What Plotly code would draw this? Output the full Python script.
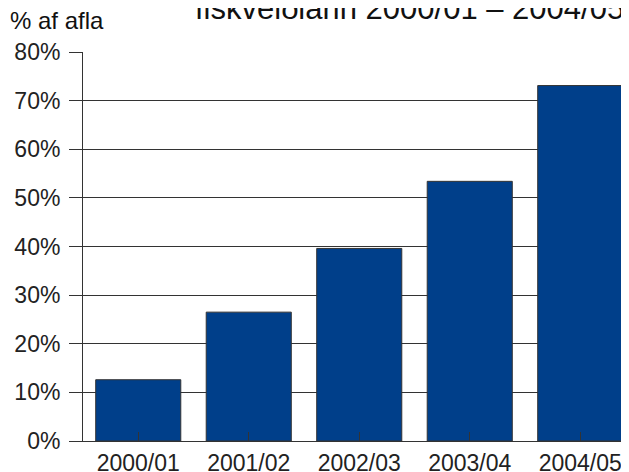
import plotly.graph_objects as go

categories = ["2000/01", "2001/02", "2002/03", "2003/04", "2004/05"]
values = [12.6, 26.5, 39.6, 53.4, 73.1]
y_ticks = [0, 10, 20, 30, 40, 50, 60, 70, 80]
y_tick_labels = [f"{v}%" for v in y_ticks]
title_text = "fiskveiðiárin 2000/01 – 2004/05"
unit_text = "% af afla"

FONT = "Liberation Sans, Arial, Helvetica, sans-serif"
OFF = 8  # page body margin offset
W, H = 629, 472
L, R, T, B = 83 - OFF, OFF, 52 - OFF, 472 - (441 - OFF)

fig = go.Figure(go.Bar(
    x=list(range(len(categories))),
    y=values,
    width=0.77,
    marker=dict(color="#003F8A", line=dict(color="#333333", width=1)),
))

plot_h = H - T - B
plot_w = W - L - R


def px_x(wx):
    return (wx - OFF - L) / plot_w


def px_y(wy):
    return (H - B - (wy - OFF)) / plot_h


fig.update_layout(
    width=W, height=H,
    margin=dict(l=L, r=R, t=T, b=B, pad=0, autoexpand=False),
    paper_bgcolor="white", plot_bgcolor="white",
    showlegend=False,
    font=dict(family=FONT, size=23, color="#222222"),
    bargap=0.23,
    annotations=[
        dict(text=title_text, xref="paper", yref="paper",
             x=px_x(193), y=px_y(8),
             xanchor="left", yanchor="middle", showarrow=False,
             font=dict(family=FONT, size=31, color="#111111")),
        dict(text=unit_text, xref="paper", yref="paper",
             x=px_x(8), y=px_y(21),
             xanchor="left", yanchor="middle", showarrow=False,
             font=dict(family=FONT, size=24, color="#111111")),
    ],
)

fig.update_xaxes(
    automargin=False,
    range=[-0.5, -0.5 + plot_w / 110.5],
    tickmode="array",
    tickvals=list(range(len(categories))),
    ticktext=categories,
    tickson="boundaries",
    ticks="inside", ticklen=9, tickcolor="#333333", tickwidth=1,
    ticklabelstandoff=1,
    showline=True, linecolor="#333333", linewidth=1,
    showgrid=False, zeroline=False,
    tickfont=dict(family=FONT, size=23, color="#222222"),
)

fig.update_yaxes(
    automargin=False,
    range=[0, 80],
    tickmode="array",
    tickvals=y_ticks,
    ticktext=y_tick_labels,
    ticks="outside", ticklen=13, tickcolor="#333333", tickwidth=1,
    ticklabelstandoff=4,
    showline=True, linecolor="#333333", linewidth=1,
    showgrid=True, gridcolor="#333333", gridwidth=1,
    zeroline=False,
    tickfont=dict(family=FONT, size=23, color="#222222"),
)

fig.write_html("out.html")
